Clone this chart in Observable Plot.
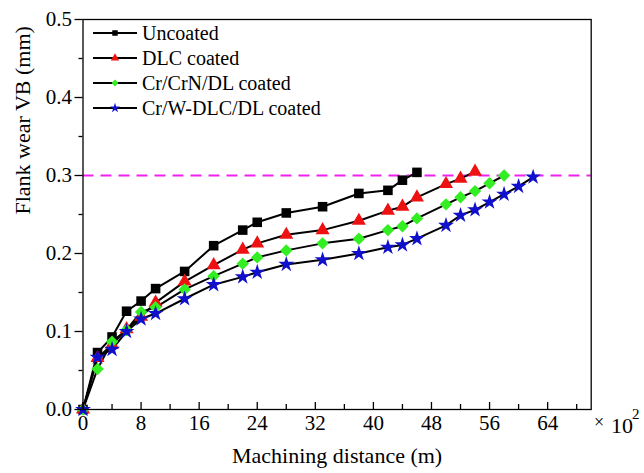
<!DOCTYPE html>
<html>
<head>
<meta charset="utf-8">
<script src="https://cdn.jsdelivr.net/npm/d3@7"></script>
<script src="https://cdn.jsdelivr.net/npm/@observablehq/plot@0.6"></script>
<style>
  body { margin: 0; background: white; }
  #chart svg { display: block; }
</style>
</head>
<body>
<div id="chart"></div>
<script>
// Machining distance (×100 m)
const xUncoated = [0, 2, 4, 6, 8, 10, 14, 18, 22, 24, 28, 33, 38, 42, 44, 46];
const vbUncoated = [0, 0.073, 0.093, 0.126, 0.139, 0.155, 0.177, 0.210, 0.230, 0.240, 0.252, 0.260, 0.277, 0.281, 0.294, 0.304];

const xDLC = [0, 2, 4, 6, 8, 10, 14, 18, 22, 24, 28, 33, 38, 42, 44, 46, 50, 52, 54];
const vbDLC = [0, 0.066, 0.083, 0.103, 0.119, 0.137, 0.164, 0.185, 0.205, 0.213, 0.224, 0.230, 0.242, 0.255, 0.260, 0.272, 0.289, 0.296, 0.305];

const xCrCrN = [0, 2, 4, 6, 8, 10, 14, 18, 22, 24, 28, 33, 38, 42, 44, 46, 50, 52, 54, 56, 58];
const vbCrCrN = [0, 0.052, 0.087, 0.102, 0.125, 0.131, 0.154, 0.171, 0.187, 0.195, 0.204, 0.213, 0.219, 0.230, 0.235, 0.245, 0.263, 0.272, 0.280, 0.290, 0.300];

const xCrW = [0, 2, 4, 6, 8, 10, 14, 18, 22, 24, 28, 33, 38, 42, 44, 46, 50, 52, 54, 56, 58, 60, 62];
const vbCrW = [0, 0.067, 0.077, 0.100, 0.116, 0.123, 0.142, 0.160, 0.170, 0.176, 0.186, 0.192, 0.200, 0.208, 0.211, 0.219, 0.236, 0.249, 0.256, 0.266, 0.276, 0.286, 0.298];

const seriesNames = ["Uncoated", "DLC coated", "Cr/CrN/DL coated", "Cr/W-DLC/DL coated"];
const seriesColors = ["#000000", "#ee1111", "#33ee22", "#1010cc"];
const seriesSymbols = ["square", "triangle", "diamond2", "star"];
const seriesR = [5.4, 5.2, 5.6, 5.0];

const limitVB = [0.3];
const xMajorTicks = [0, 8, 16, 24, 32, 40, 48, 56, 64];
const xMinorTicks = [4, 12, 20, 28, 36, 44, 52, 60, 68];
const yMajorTicks = [0, 0.1, 0.2, 0.3, 0.4, 0.5];
const yMinorTicks = [0.05, 0.15, 0.25, 0.35, 0.45];

const xTitle = "Machining distance (m)";
const yTitle = "Flank wear VB (mm)";

const xs = [xUncoated, xDLC, xCrCrN, xCrW];
const vbs = [vbUncoated, vbDLC, vbCrCrN, vbCrW];
const series = seriesNames.map((name, i) => ({
  name,
  color: seriesColors[i],
  symbol: seriesSymbols[i],
  r: seriesR[i],
  data: xs[i].map((x, j) => ({x, vb: vbs[i][j]}))
}));

const W = 644, H = 473;
const mL = 82.5, mR = 53.3, mT = 19, mB = 64;
const frameH = H - mT - mB;

const marks = [
  Plot.ruleY(limitVB, {stroke: "#f020f0", strokeWidth: 2, strokeDasharray: "11,7"}),
];
series.forEach(s => {
  marks.push(Plot.line(s.data, {x: "x", y: "vb", stroke: "black", strokeWidth: 2}));
});
series.forEach(s => {
  marks.push(Plot.dot(s.data, {x: "x", y: "vb", symbol: s.symbol, r: s.r, fill: s.color, stroke: "none"}));
});
marks.push(
  Plot.tickX(xMajorTicks, {x: d => d, insetTop: frameH - 7, stroke: "black", strokeWidth: 1.3}),
  Plot.tickX(xMinorTicks, {x: d => d, insetTop: frameH - 5, stroke: "black", strokeWidth: 1.3}),
  Plot.axisX({ticks: xMajorTicks, tickSize: 0, tickPadding: 6, tickFormat: d => String(d), label: null, fontSize: 21}),
  Plot.axisY({ticks: yMajorTicks, tickSize: 8, tickPadding: 3, tickFormat: ".1f", label: null, strokeWidth: 1.3, fontSize: 21}),
  Plot.axisY({ticks: yMinorTicks, tickSize: 4, tickFormat: () => "", label: null, strokeWidth: 1.3}),
  Plot.frame({stroke: "black", strokeWidth: 1.3}),
  Plot.text([xTitle], {frameAnchor: "bottom", dy: 53, fontSize: 22}),
  Plot.text([yTitle], {frameAnchor: "left", rotate: -90, dx: -60, fontSize: 22})
);

const chart = Plot.plot({
  width: W,
  height: H,
  marginLeft: mL,
  marginRight: mR,
  marginTop: mT,
  marginBottom: mB,
  x: {domain: [0, 70]},
  y: {domain: [0, 0.5]},
  style: {fontFamily: "'Liberation Serif', 'Times New Roman', serif", fontSize: "20px", background: "white", color: "black"},
  marks
});

// Legend + exponent annotation
const svg = d3.select(chart);
const leg = svg.append("g").attr("text-anchor", "start");
const symMap = {square: d3.symbolSquare, triangle: d3.symbolTriangle, diamond2: d3.symbolDiamond2, star: d3.symbolStar};
series.forEach((s, i) => {
  const y = 33 + i * 25;
  const g = leg.append("g").attr("transform", `translate(0,${y})`);
  g.append("line").attr("x1", 93).attr("x2", 137).attr("y1", 0).attr("y2", 0)
    .attr("stroke", "black").attr("stroke-width", 2);
  g.append("path").attr("d", d3.symbol(symMap[s.symbol], Math.PI * 3.1 * 3.1)())
    .attr("transform", "translate(115,0)").attr("fill", s.color);
  g.append("text").attr("x", 142).attr("y", 0).attr("dy", "0.35em")
    .attr("font-size", 20).attr("fill", "black").text(s.name);
});
const ex = svg.append("g").attr("fill", "black").attr("text-anchor", "start");
ex.append("text").attr("x", 594).attr("y", 428).attr("font-size", 18).text("×");
ex.append("text").attr("x", 611).attr("y", 433).attr("font-size", 22).text("10");
ex.append("text").attr("x", 632).attr("y", 419).attr("font-size", 15).text("2");

document.getElementById("chart").appendChild(chart);
</script>
</body>
</html>
